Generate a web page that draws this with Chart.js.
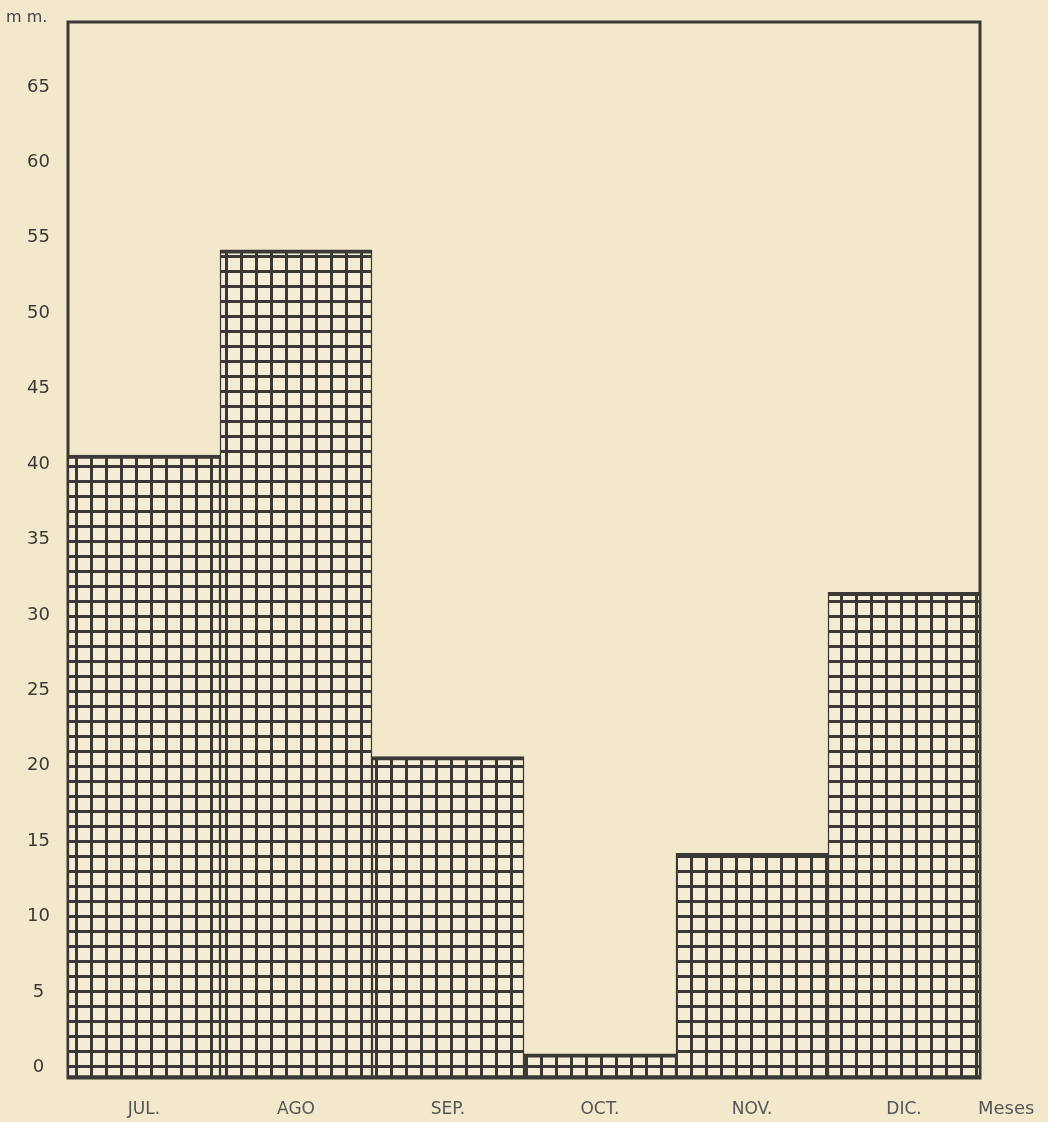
<!DOCTYPE html>
<html>
<head>
<meta charset="utf-8">
<title>Precipitación mensual</title>
<script src="https://cdn.jsdelivr.net/npm/chart.js@4/dist/chart.umd.min.js"></script>
<style>
  html, body { margin: 0; padding: 0; background: #f2e9cc; }
  #wrap { width: 1048px; height: 1122px; }
</style>
</head>
<body>
<div id="wrap"><canvas id="chart-canvas" width="1048" height="1122"></canvas></div>
<script>
var months = ['JUL.', 'AGO', 'SEP.', 'OCT.', 'NOV.', 'DIC.'];
var rainfall = [40.6, 54.2, 20.6, 0.9, 14.2, 31.5];
var yTicks = [0, 5, 10, 15, 20, 25, 30, 35, 40, 45, 50, 55, 60, 65];
var yMin = -0.7;
var yMax = 69.3;

var paper = '#f2e9cc';
var ink = '#3b3935';

// Square mesh used as the bar fill.
function meshPattern(ctx) {
  var cell = 15;
  var tile = document.createElement('canvas');
  tile.width = cell;
  tile.height = cell;
  var t = tile.getContext('2d');
  t.fillStyle = '#f5edd5';
  t.fillRect(0, 0, cell, cell);
  t.fillStyle = ink;
  t.fillRect(0, 0, cell, 3);
  t.fillRect(0, 0, 3, cell);
  return ctx.createPattern(tile, 'repeat');
}

// Paper background, the box round the plot and the two axis words.
var framePlugin = {
  id: 'frame',
  beforeDraw: function (chart) {
    var c = chart.ctx;
    c.save();
    c.fillStyle = paper;
    c.fillRect(0, 0, chart.width, chart.height);
    c.restore();
  },
  beforeDatasetsDraw: function (chart) {
    var a = chart.chartArea;
    var c = chart.ctx;
    c.save();
    c.strokeStyle = ink;
    c.lineWidth = 3;
    c.strokeRect(a.left, a.top, a.right - a.left, a.bottom - a.top);
    c.restore();
  },
  afterDraw: function (chart) {
    var a = chart.chartArea;
    var c = chart.ctx;
    c.save();
    c.fillStyle = '#444';
    c.font = '16px "DejaVu Sans"';
    c.textBaseline = 'middle';
    c.textAlign = 'left';
    c.fillText('m m.', 6, a.top - 4);
    c.fillStyle = '#555';
    c.font = '18px "DejaVu Sans"';
    c.fillText('Meses', a.right - 2, a.bottom + 31);
    c.restore();
  }
};

var ctx = document.getElementById('chart-canvas').getContext('2d');

new Chart(ctx, {
  type: 'bar',
  data: {
    labels: months,
    datasets: [{
      data: rainfall.map(function (v) { return [yMin, v]; }),
      backgroundColor: meshPattern(ctx),
      borderColor: ink,
      borderWidth: { top: 4, bottom: 3, left: 1.5, right: 1.5 },
      borderSkipped: false,
      categoryPercentage: 1,
      barPercentage: 1
    }]
  },
  options: {
    responsive: false,
    animation: false,
    layout: { padding: { top: 22, right: 68, left: 0, bottom: 0 } },
    plugins: {
      legend: { display: false },
      tooltip: { enabled: false }
    },
    scales: {
      x: {
        grid: { display: false, drawTicks: false },
        border: { display: false },
        ticks: {
          color: '#555',
          font: { family: 'DejaVu Sans', size: 17 },
          padding: 21
        },
        afterFit: function (scale) {
          scale.height = 44;
          scale.paddingLeft = 0;
          scale.paddingRight = 0;
        }
      },
      y: {
        min: yMin,
        max: yMax,
        grid: { display: false, drawTicks: false },
        border: { display: false },
        afterBuildTicks: function (scale) {
          scale.ticks = yTicks.map(function (v) { return { value: v }; });
        },
        ticks: {
          color: '#3b3935',
          font: { family: 'DejaVu Sans', size: 18 },
          crossAlign: 'center',
          padding: 18
        },
        afterFit: function (scale) {
          scale.width = 68;
          scale.paddingTop = 0;
          scale.paddingBottom = 0;
        }
      }
    }
  },
  plugins: [framePlugin]
});
</script>
</body>
</html>
